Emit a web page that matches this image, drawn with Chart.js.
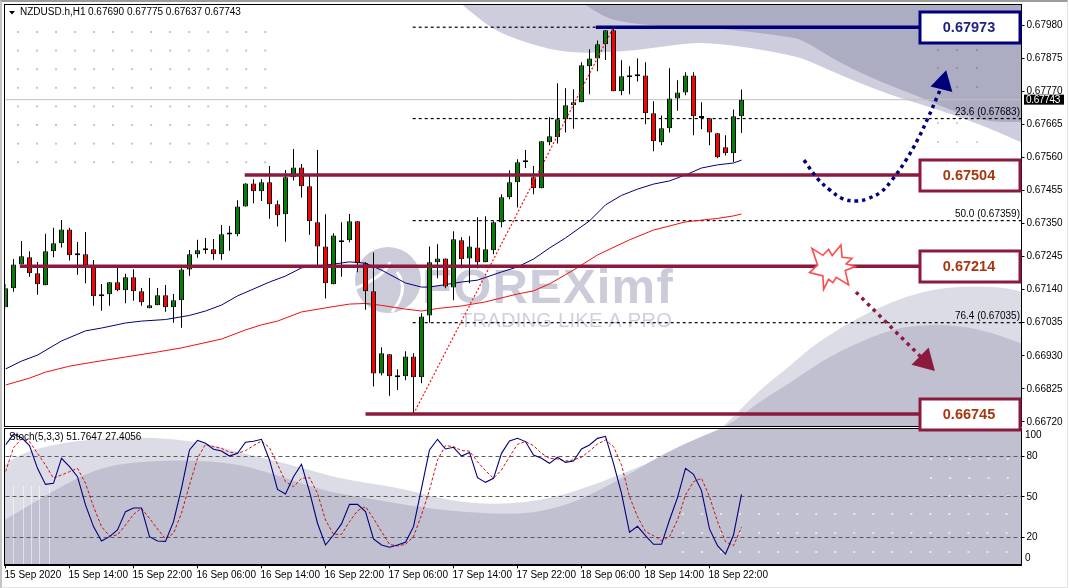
<!DOCTYPE html>
<html>
<head>
<meta charset="utf-8">
<title>NZDUSD H1</title>
<script src="https://cdn.jsdelivr.net/npm/chart.js@4"></script>
<style>
html, body { margin: 0; padding: 0; background: #fff; overflow: hidden; }
#frame { position: absolute; left: 0; top: 0; width: 1065px; height: 585px; box-sizing: content-box;
  border-top: 2px solid #9c9c9c; border-left: 2px solid #c4c4c4; border-right: 1px solid #e2e2e2; border-bottom: 1px solid #e2e2e2; }
canvas { position: absolute; left: 0; }
#priceChart { top: 0; z-index: 2; }
#stochChart { top: 428px; z-index: 1; }
</style>
</head>
<body>
<div id="frame"></div>
<canvas id="priceChart" width="1069" height="432"></canvas>
<canvas id="stochChart" width="1069" height="160"></canvas>
<script>
const tickLabels = ['15 Sep 2020', '15 Sep 14:00', '15 Sep 22:00', '16 Sep 06:00', '16 Sep 14:00', '16 Sep 22:00',
    '17 Sep 06:00', '17 Sep 14:00', '17 Sep 22:00', '18 Sep 06:00', '18 Sep 14:00', '18 Sep 22:00'];
const priceTicks = [0.6798, 0.67875, 0.6777, 0.67665, 0.6756, 0.67455, 0.6735, 0.67245, 0.6714, 0.67035, 0.6693, 0.66825, 0.6672];
const stochTicks = [80, 50, 20];

const opens = [0.67084, 0.67144, 0.6722, 0.67243, 0.67192, 0.67154, 0.67262, 0.67287, 0.67331, 0.67249, 0.67252, 0.67214, 0.67119, 0.67125, 0.67163, 0.67138, 0.67179, 0.67135, 0.67081, 0.6709, 0.67122, 0.67084, 0.67106, 0.67204, 0.67252, 0.67265, 0.67268, 0.67252, 0.67315, 0.67316, 0.67404, 0.67477, 0.67452, 0.67481, 0.67411, 0.67379, 0.67497, 0.67528, 0.67468, 0.67354, 0.67277, 0.67157, 0.6729, 0.67297, 0.67357, 0.67224, 0.67135, 0.66874, 0.66935, 0.66865, 0.66865, 0.66928, 0.66862, 0.67058, 0.67227, 0.67239, 0.67147, 0.67297, 0.67239, 0.67274, 0.67227, 0.67265, 0.67354, 0.67433, 0.67481, 0.67544, 0.67497, 0.67462, 0.67608, 0.67624, 0.67681, 0.67725, 0.67735, 0.67849, 0.67874, 0.67919, 0.67963, 0.6777, 0.67814, 0.67824, 0.6782, 0.677, 0.67608, 0.67652, 0.67747, 0.67766, 0.6782, 0.67685, 0.67684, 0.67636, 0.67592, 0.67573, 0.6769];
const highs = [0.67158, 0.67237, 0.67294, 0.67262, 0.67228, 0.67317, 0.67336, 0.67361, 0.67336, 0.67291, 0.67323, 0.67234, 0.67158, 0.67164, 0.67215, 0.6719, 0.67205, 0.67145, 0.67177, 0.67145, 0.67155, 0.67126, 0.67218, 0.67266, 0.67298, 0.67304, 0.67301, 0.67345, 0.67342, 0.67424, 0.67478, 0.6749, 0.6749, 0.67532, 0.67423, 0.6752, 0.67586, 0.67539, 0.675, 0.67583, 0.67379, 0.67319, 0.67354, 0.6738, 0.67357, 0.67227, 0.67258, 0.66957, 0.66935, 0.66887, 0.66944, 0.66938, 0.67065, 0.67277, 0.67284, 0.67239, 0.67325, 0.67306, 0.67309, 0.6737, 0.67373, 0.67357, 0.67443, 0.67519, 0.67554, 0.67583, 0.67532, 0.67611, 0.67687, 0.67795, 0.67779, 0.67776, 0.67862, 0.67903, 0.67931, 0.67963, 0.67973, 0.67868, 0.67849, 0.67874, 0.67862, 0.67738, 0.67693, 0.67843, 0.67805, 0.6783, 0.6783, 0.67735, 0.67684, 0.67636, 0.6763, 0.67712, 0.67775];
const lows = [0.67084, 0.67133, 0.6722, 0.67181, 0.67124, 0.67154, 0.67243, 0.67274, 0.67232, 0.67187, 0.6716, 0.67089, 0.67073, 0.67089, 0.67135, 0.67097, 0.67105, 0.67089, 0.67081, 0.6709, 0.6707, 0.67035, 0.67019, 0.67184, 0.67241, 0.67254, 0.67235, 0.67235, 0.67263, 0.67309, 0.67404, 0.67414, 0.67421, 0.67365, 0.6734, 0.67292, 0.67486, 0.67432, 0.67314, 0.67217, 0.67112, 0.67157, 0.67181, 0.6729, 0.67195, 0.67076, 0.66832, 0.66868, 0.66803, 0.66821, 0.66852, 0.66745, 0.66843, 0.67035, 0.67176, 0.67144, 0.67106, 0.67208, 0.6716, 0.67208, 0.67227, 0.67252, 0.67338, 0.67427, 0.67401, 0.67526, 0.67443, 0.67462, 0.67598, 0.67604, 0.67639, 0.67651, 0.67735, 0.6776, 0.67833, 0.67869, 0.6777, 0.67757, 0.6776, 0.67801, 0.67665, 0.67579, 0.67598, 0.67639, 0.67708, 0.67757, 0.6763, 0.67649, 0.67598, 0.67557, 0.67566, 0.67545, 0.67637];
const closes = [0.67144, 0.6722, 0.67246, 0.67192, 0.67157, 0.67262, 0.67287, 0.67331, 0.67249, 0.67255, 0.67217, 0.67119, 0.67125, 0.67163, 0.67138, 0.67179, 0.67135, 0.671, 0.6709, 0.67122, 0.67084, 0.67106, 0.67204, 0.67252, 0.67265, 0.67268, 0.67252, 0.67316, 0.67316, 0.67404, 0.67477, 0.67452, 0.67481, 0.67411, 0.67376, 0.67497, 0.67528, 0.67468, 0.67357, 0.67277, 0.6716, 0.67312, 0.67297, 0.67357, 0.67224, 0.67135, 0.66874, 0.66938, 0.66865, 0.66862, 0.66928, 0.66862, 0.67055, 0.67227, 0.67239, 0.6715, 0.673, 0.67236, 0.67277, 0.67227, 0.67268, 0.67354, 0.67433, 0.67481, 0.67544, 0.67545, 0.67462, 0.67611, 0.67627, 0.67681, 0.67725, 0.67735, 0.67852, 0.67874, 0.67919, 0.67963, 0.6777, 0.67817, 0.6782, 0.67817, 0.677, 0.67611, 0.67652, 0.67747, 0.67766, 0.6782, 0.6769, 0.67688, 0.67639, 0.6756, 0.67573, 0.6769, 0.67743];

// moving averages at these bars
const maBlueBars = [0, 2, 4, 7, 10, 12, 15, 17, 20, 23, 25, 27, 29, 31, 33, 35, 37, 41, 43, 45, 47, 50, 52, 53, 57, 59, 62, 64, 66, 68, 70, 73, 75, 77, 79, 81, 83, 85, 87, 89, 91, 92];
const maBlueValues = [0.66888, 0.66913, 0.66932, 0.66977, 0.67009, 0.67018, 0.67034, 0.6704, 0.67045, 0.67058, 0.67072, 0.67091, 0.6712, 0.67142, 0.67164, 0.67183, 0.67209, 0.67221, 0.67228, 0.67224, 0.67202, 0.67161, 0.67148, 0.67148, 0.67164, 0.6717, 0.67196, 0.67212, 0.67237, 0.67272, 0.67304, 0.67358, 0.67409, 0.67439, 0.67459, 0.67475, 0.67485, 0.67504, 0.67526, 0.67536, 0.67542, 0.67551];
const maRedBars = [0, 3, 5, 8, 11, 15, 19, 22, 27, 30, 32, 34, 37, 40, 43, 45, 47, 50, 52, 54, 57, 60, 64, 66, 68, 71, 74, 78, 81, 85, 89, 91, 92];
const maRedValues = [0.66837, 0.66859, 0.66878, 0.66897, 0.6691, 0.66926, 0.66942, 0.66955, 0.66983, 0.67012, 0.67028, 0.6704, 0.67069, 0.67082, 0.67094, 0.67096, 0.6709, 0.67078, 0.67072, 0.6708, 0.67088, 0.67101, 0.67126, 0.67136, 0.67158, 0.67202, 0.6725, 0.67298, 0.67329, 0.67355, 0.67366, 0.67374, 0.6738];

const stochMain = [88.4, 96.3, 93.8, 87.9, 71.1, 59.2, 60, 78.5, 72.3, 64.9, 44, 27.9, 17.3, 20.5, 25.4, 39, 41.7, 41.7, 20.5, 17.3, 17, 31.6, 56.3, 84.7, 91.8, 89.6, 85.2, 83.9, 80.2, 82.2, 90.4, 91.1, 92.6, 77.3, 55.5, 52.1, 64.9, 74.1, 53.8, 30.4, 14.3, 21.7, 29.9, 44.4, 44.4, 39, 18.8, 14.3, 12.6, 14.3, 16.3, 27.9, 56.3, 84.7, 92.6, 85.4, 86.7, 80.2, 82.9, 64.2, 60.7, 63.7, 82.2, 91.3, 93.3, 90.9, 81, 78.5, 74.8, 79.3, 75.5, 76.5, 85.4, 88.4, 93.3, 94.8, 74.8, 52.6, 23.7, 28.1, 21.2, 14.8, 14.8, 32.8, 49.4, 71.1, 66.7, 54.6, 26.2, 13.8, 7.6, 21.7, 51.76];
const stochSignal = [68.6, 86.4, 92.8, 90.9, 82.2, 73.6, 63.7, 66.2, 68.6, 71.1, 60, 42.7, 27.9, 21, 21.7, 29.1, 37, 41.5, 34, 26.2, 18.8, 23, 37.8, 58.8, 78.5, 88.9, 87.2, 85.9, 83, 82.2, 84.2, 87.9, 91.3, 86.4, 74.1, 61.2, 57.5, 63.7, 64.2, 52.6, 32.8, 22.2, 22.2, 31.6, 39.7, 42.7, 34, 24.2, 14.8, 13.6, 14.8, 20.5, 36.5, 55, 77.3, 87.9, 87.2, 84.2, 83.9, 76, 69.4, 63.7, 69.9, 79.7, 88.9, 90.9, 87.9, 82.2, 78.5, 78, 76.5, 77.3, 79.3, 83.9, 89.1, 92.1, 87.2, 73.6, 50.1, 35.3, 24.2, 21.2, 17.5, 20.5, 32.8, 51.4, 61.2, 63.7, 50.1, 31.6, 16.8, 13.8, 27.41];

// support and resistance levels, with the bar each one starts from
const levelPrices = [0.67973, 0.67504, 0.67214, 0.66745];
const levelStarts = [73.8, 29.9, 1.8, 45];
const levelNames = ['0.67973', '0.67504', '0.67214', '0.66745'];

// fibonacci retracement
const fibPrices = [0.67973, 0.67683, 0.67359, 0.67035, 0.66745];
const fibNames = ['', '23.6 (0.67683)', '50.0 (0.67359)', '76.4 (0.67035)', ''];
const fibStart = 50.9;
const fibLineBars = [51, 76];
const fibLinePrices = [0.66745, 0.67973];

// hand drawn scenario arrows
const upArrowBars = [99.81, 101.56, 103.06, 104.69, 106.44, 107.69, 109.44, 110.81, 112.56, 114.06, 115.31, 116.44, 117.19];
const upArrowPrices = [0.67551, 0.67491, 0.67456, 0.67428, 0.67421, 0.67428, 0.6745, 0.67488, 0.67551, 0.67618, 0.67685, 0.67751, 0.67796];
const downArrowBars = [106.31, 114.44, 114.94];
const downArrowPrices = [0.67132, 0.66926, 0.66913];
const burstBar = 103.3;
const burstPrice = 0.67213;

const lastBar = 127;
const NAVY = '#00007c';
const MAROON = '#8c1a3c';
const FONT = '"Liberation Sans", Arial, sans-serif';
const SMALL_SPACING = '-0.3px';

function pairs(xs, ys) {
    return xs.map((x, i) => ({ x: x, y: ys[i] }));
}

function bars(lo, hi) {
    return lo.map((v, i) => ({ x: i, y: [v, hi[i]] }));
}

// stops tick labels from shrinking the plot area
function noPadding(axis) {
    axis.paddingTop = 0;
    axis.paddingBottom = 0;
    axis.paddingLeft = 0;
    axis.paddingRight = 0;
}

// background artwork, in page pixels
const topLight = [[460, 3], [483, 22], [500, 33], [533, 45], [563, 52], [597, 53], [640, 50], [687, 43], [713, 43], [752, 48], [790, 55], [807, 60], [840, 75], [890, 95], [930, 107], [977, 123], [1023, 143]];
const topDark = [[583, 3], [600, 15], [620, 22], [667, 27], [713, 28], [752, 32], [790, 37], [803, 40], [840, 63], [883, 83], [923, 98], [957, 113], [990, 122], [1023, 122]];
const hillLight = [[3, 466], [17, 455], [50, 445], [100, 438], [150, 437], [200, 442], [250, 455], [300, 467], [333, 477], [367, 483], [400, 488], [450, 501], [500, 505], [550, 499], [600, 483], [650, 462], [700, 442], [725, 426], [757, 392], [790, 366], [810, 348], [840, 328], [873, 310], [907, 296], [940, 288], [977, 286], [1007, 288], [1023, 292]];
const hillDark = [[3, 521], [33, 503], [67, 483], [100, 468], [133, 462], [183, 460], [233, 463], [267, 472], [300, 483], [333, 493], [367, 498], [400, 504], [433, 509], [467, 512], [500, 514], [533, 513], [567, 505], [600, 490], [633, 472], [667, 452], [700, 437], [730, 425], [757, 403], [790, 383], [823, 360], [857, 343], [890, 330], [917, 325], [957, 325], [990, 332], [1023, 344]];
const burstShape = [[-20, -18.3], [-9, -11.3], [-3.3, -17.3], [0.3, -11], [9, -21.7], [10.3, -9.3], [20, -8.3], [14.3, -2.7], [23.3, 0], [13.3, 4], [16.7, 18.3], [4.3, 10.7], [1, 16], [-3.3, 12.7], [-8.3, 22.7], [-9, 9.3], [-22.3, 6], [-14.3, -1.7]];

function fillWave(ctx, pts, closeA, closeB, color) {
    ctx.beginPath();
    ctx.moveTo(pts[0][0], pts[0][1]);
    for (let i = 1; i < pts.length - 1; i++) {
        const mx = (pts[i][0] + pts[i + 1][0]) / 2;
        const my = (pts[i][1] + pts[i + 1][1]) / 2;
        ctx.quadraticCurveTo(pts[i][0], pts[i][1], mx, my);
    }
    ctx.lineTo(pts[pts.length - 1][0], pts[pts.length - 1][1]);
    ctx.lineTo(closeA[0], closeA[1]);
    ctx.lineTo(closeB[0], closeB[1]);
    ctx.closePath();
    ctx.fillStyle = color;
    ctx.fill();
}

function dotGrid(ctx, xs, ys, color, size) {
    ctx.fillStyle = color;
    xs.forEach(x => ys.forEach(y => ctx.fillRect(x - size / 2, y - size / 2, size, size)));
}

function range(from, step, n) {
    return Array.from({ length: n }, (_, i) => from + step * i);
}

// shared by both panels, so the waves run on across the gap between them
function drawArtwork(ctx, top) {
    ctx.save();
    ctx.translate(0, -top);
    fillWave(ctx, topLight, [1023, 3], [460, 3], '#cdcdde');
    fillWave(ctx, topDark, [1023, 3], [583, 3], '#acacc2');
    fillWave(ctx, hillLight, [1023, 566], [3, 566], '#dcdce7');
    fillWave(ctx, hillDark, [1023, 566], [3, 566], '#c0c0d1');

    dotGrid(ctx, range(18, 19.02, 14), range(32, 18.6, 8), '#c2c2d6', 2);
    dotGrid(ctx, [938, 957, 977], [50, 68, 87], '#8f8fa8', 2);
    dotGrid(ctx, [938, 957, 977], [123, 142], '#d2d2de', 2);
    dotGrid(ctx, range(683, 19.03, 18), [514, 533, 552], '#e6e6ee', 2);
    dotGrid(ctx, range(931, 19.2, 5), [459, 478, 496], '#e6e6ee', 2);

    ctx.fillStyle = 'rgba(255,255,255,0.5)';
    [13, 23, 31, 39, 49].forEach(x => ctx.fillRect(x, 486, 1, 80));
    ctx.restore();
}

function drawLogo(ctx) {
    ctx.save();
    ctx.letterSpacing = '0px';
    ctx.fillStyle = '#cbcbd9';
    ctx.beginPath();
    ctx.arc(388, 280, 33, 0, Math.PI * 2);
    ctx.fill();
    ctx.strokeStyle = '#fff';
    ctx.lineWidth = 3;
    ctx.beginPath();
    ctx.moveTo(356, 288);
    ctx.quadraticCurveTo(385, 276, 390, 262);
    ctx.moveTo(392, 312);
    ctx.quadraticCurveTo(410, 290, 397, 272);
    ctx.stroke();
    ctx.letterSpacing = '1.2px';
    ctx.font = 'bold 49px ' + FONT;
    ctx.textAlign = 'left';
    ctx.textBaseline = 'alphabetic';
    ctx.fillText('FOREXimf', 422, 303);
    ctx.fillStyle = '#cfcfdd';
    ctx.letterSpacing = '0.3px';
    ctx.font = '20px ' + FONT;
    ctx.fillText('TRADING LIKE A PRO', 460, 327);
    ctx.restore();
}

const priceArt = {
    id: 'priceArt',
    beforeDraw(chart) {
        const ctx = chart.ctx;
        ctx.save();
        ctx.beginPath();
        ctx.rect(5, 5, 1016, 421);
        ctx.clip();
        drawArtwork(ctx, 0);
        drawLogo(ctx);
        ctx.restore();
    },
    afterDraw(chart) {
        const ctx = chart.ctx;
        const x = chart.scales.x;
        const y = chart.scales.y;

        ctx.save();
        ctx.strokeStyle = '#000';
        ctx.lineWidth = 1;
        ctx.strokeRect(4.5, 4.5, 1017, 422);

        // header
        ctx.fillStyle = '#000';
        ctx.beginPath();
        ctx.moveTo(9, 11);
        ctx.lineTo(15, 11);
        ctx.lineTo(12, 14.5);
        ctx.closePath();
        ctx.fill();
        ctx.font = '10px ' + FONT;
        ctx.textBaseline = 'middle';
        ctx.fillStyle = '#000';
        ctx.fillText('NZDUSD.h,H1', 20, 12.5);
        ctx.fillText([opens[92], highs[92], lows[92], closes[92]].map(v => v.toFixed(5)).join(' '), 88, 12.5);

        // fibonacci labels
        ctx.textAlign = 'right';
        fibPrices.forEach((p, i) => {
            if (fibNames[i]) ctx.fillText(fibNames[i], 1020, y.getPixelForValue(p) - 6);
        });

        // burst
        const bx = x.getPixelForValue(burstBar);
        const by = y.getPixelForValue(burstPrice);
        ctx.beginPath();
        burstShape.forEach((p, i) => {
            if (i === 0) ctx.moveTo(bx + p[0], by + p[1]);
            else ctx.lineTo(bx + p[0], by + p[1]);
        });
        ctx.closePath();
        ctx.fillStyle = '#fff';
        ctx.fill();
        ctx.strokeStyle = '#ff4a4a';
        ctx.lineWidth = 1.6;
        ctx.stroke();

        // level boxes
        ctx.textAlign = 'center';
        ctx.font = 'bold 14.5px ' + FONT;
        ctx.letterSpacing = '0px';
        levelPrices.forEach((p, i) => {
            const cy = Math.round(y.getPixelForValue(p));
            ctx.fillStyle = '#fff';
            ctx.fillRect(919, cy - 16, 102, 32);
            ctx.strokeStyle = i === 0 ? NAVY : MAROON;
            ctx.lineWidth = 3;
            ctx.strokeRect(920, cy - 15, 100, 31);
            ctx.fillStyle = i === 0 ? '#1f1f80' : '#a8360f';
            ctx.fillText(levelNames[i], 969, cy + 1);
        });

        // current price tag
        const tagY = y.getPixelForValue(closes[92]);
        ctx.letterSpacing = SMALL_SPACING;
        ctx.fillStyle = '#000';
        ctx.fillRect(1024, tagY - 5, 40, 10);
        ctx.fillStyle = '#fff';
        ctx.font = '10px ' + FONT;
        ctx.textAlign = 'left';
        ctx.fillText(closes[92].toFixed(5), 1026, tagY + 0.5);
        ctx.restore();
    }
};

const stochArt = {
    id: 'stochArt',
    beforeDraw(chart) {
        const ctx = chart.ctx;
        ctx.save();
        ctx.beginPath();
        ctx.rect(5, 1, 1016, 137);
        ctx.clip();
        drawArtwork(ctx, 428);
        ctx.restore();
    },
    afterDraw(chart) {
        const ctx = chart.ctx;
        const y = chart.scales.y;
        ctx.save();
        ctx.strokeStyle = '#000';
        ctx.lineWidth = 1;
        ctx.strokeRect(4.5, 0.5, 1017, 137);
        ctx.fillStyle = '#000';
        ctx.font = '10px ' + FONT;
        ctx.textBaseline = 'middle';
        ctx.fillText('Stoch(5,3,3) ' + '51.7647 27.4056', 9, 9.5);
        // 100 and 0 are pushed inside the panel
        ctx.fillText('100', 1025, y.getPixelForValue(100) + 6);
        ctx.fillText('0', 1025, y.getPixelForValue(0) - 6);
        ctx.restore();
    }
};

const priceCanvas = document.getElementById('priceChart');
const stochCanvas = document.getElementById('stochChart');
priceCanvas.getContext('2d').letterSpacing = SMALL_SPACING;
stochCanvas.getContext('2d').letterSpacing = SMALL_SPACING;

new Chart(priceCanvas, {
    type: 'bar',
    data: {
        datasets: [
            { type: 'line', data: pairs([0, lastBar], [closes[92], closes[92]]), borderColor: '#c0c0c0', borderWidth: 1, pointRadius: 0, order: 10 },
            ...fibPrices.map(p => ({ type: 'line', data: pairs([fibStart, lastBar], [p, p]), borderColor: '#000', borderWidth: 1.2, borderDash: [3, 3], pointRadius: 0, order: 9 })),
            { type: 'line', data: pairs(maBlueBars, maBlueValues), borderColor: NAVY, borderWidth: 1, pointRadius: 0, order: 8 },
            { type: 'line', data: pairs(maRedBars, maRedValues), borderColor: '#f01010', borderWidth: 1, pointRadius: 0, order: 8 },
            { data: bars(lows, highs), backgroundColor: '#000', borderWidth: 0, barThickness: 1, inflateAmount: 0, grouped: false, order: 6 },
            {
                data: bars(opens, closes),
                backgroundColor: closes.map((c, i) => (c >= opens[i] ? '#008000' : '#ff0000')),
                borderColor: '#000', borderWidth: 1, borderSkipped: false, barThickness: 5, inflateAmount: 0, minBarLength: 2, grouped: false, order: 5
            },
            { type: 'line', data: pairs(fibLineBars, fibLinePrices), borderColor: '#ff1010', borderWidth: 1.2, borderDash: [2, 2], pointRadius: 0, order: 4 },
            ...levelPrices.map((p, i) => ({ type: 'line', data: pairs([levelStarts[i], lastBar], [p, p]), borderColor: i === 0 ? NAVY : MAROON, borderWidth: 3.6, pointRadius: 0, order: 3 })),
            {
                type: 'line', data: pairs(upArrowBars, upArrowPrices), borderColor: NAVY, borderWidth: 3.5, borderDash: [3.5, 4], tension: 0.4,
                pointRadius: upArrowBars.map((_, i) => (i === upArrowBars.length - 1 ? 13 : 0)),
                pointRotation: 14, pointStyle: 'triangle', pointBackgroundColor: NAVY, pointBorderWidth: 0, order: 2
            },
            {
                type: 'line', data: pairs(downArrowBars, downArrowPrices), borderColor: MAROON, borderWidth: 3.5, borderDash: [3.5, 4.5],
                pointRadius: downArrowBars.map((_, i) => (i === downArrowBars.length - 1 ? 14 : 0)),
                pointRotation: 135, pointStyle: 'triangle', pointBackgroundColor: MAROON, pointBorderWidth: 0, order: 2
            }
        ]
    },
    options: {
        responsive: false,
        animation: false,
        layout: { autoPadding: false, padding: { left: 5.5, top: 4.5, bottom: 5.5, right: 0 } },
        plugins: { legend: { display: false }, tooltip: { enabled: false } },
        scales: {
            x: { type: 'linear', display: false, min: 0, max: lastBar, offset: false, grid: { offset: false } },
            y: {
                position: 'right',
                min: 0.667054,
                max: 0.680451,
                afterBuildTicks: axis => { axis.ticks = priceTicks.map(v => ({ value: v })); },
                afterFit: axis => { axis.width = 47.5; noPadding(axis); },
                border: { color: '#000' },
                grid: { drawOnChartArea: false, tickLength: 3, tickColor: '#000' },
                ticks: { color: '#000', font: { family: FONT, size: 10 }, padding: 2, callback: v => v.toFixed(5) }
            }
        }
    },
    plugins: [priceArt]
});

new Chart(stochCanvas, {
    type: 'line',
    data: {
        datasets: [
            { data: stochMain.map((v, i) => ({ x: i, y: v })), borderColor: NAVY, borderWidth: 1.1, pointRadius: 0 },
            { data: stochSignal.map((v, i) => ({ x: i, y: v })), borderColor: '#d01010', borderWidth: 1, borderDash: [3, 2], pointRadius: 0 }
        ]
    },
    options: {
        responsive: false,
        animation: false,
        layout: { autoPadding: false, padding: { left: 5.5, top: 1.3, bottom: 0, right: 0 } },
        plugins: { legend: { display: false }, tooltip: { enabled: false } },
        scales: {
            x: {
                type: 'linear',
                min: 0,
                max: lastBar,
                afterBuildTicks: axis => { axis.ticks = tickLabels.map((_, k) => ({ value: k * 8 })); },
                afterFit: axis => { axis.height = 23.7; noPadding(axis); },
                border: { color: '#000' },
                grid: { drawOnChartArea: false, tickLength: 4, tickColor: '#000' },
                ticks: { color: '#000', autoSkip: false, maxRotation: 0, align: 'start', labelOffset: -1, padding: 1, font: { family: FONT, size: 10 }, callback: v => tickLabels[v / 8] }
            },
            y: {
                position: 'right',
                min: 0,
                max: 100,
                afterBuildTicks: axis => { axis.ticks = stochTicks.map(v => ({ value: v })); },
                afterFit: axis => { axis.width = 47.5; noPadding(axis); },
                border: { color: '#000', dash: [4, 3] },
                grid: { color: '#5a5a5a', tickLength: 3, tickColor: '#000', tickBorderDash: [] },
                ticks: { color: '#000', font: { family: FONT, size: 10 }, padding: 2 }
            }
        }
    },
    plugins: [stochArt]
});
</script>
</body>
</html>
